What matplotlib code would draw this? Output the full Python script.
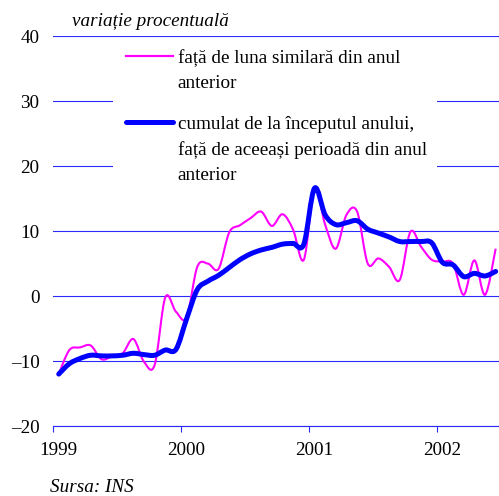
import numpy as np
import matplotlib
matplotlib.use("Agg")
import matplotlib.pyplot as plt
import matplotlib.transforms as mtransforms
from matplotlib.path import Path
from matplotlib.patches import PathPatch, Rectangle
from matplotlib.lines import Line2D
from matplotlib.ticker import FuncFormatter

plt.rcParams['font.family'] = ['Liberation Serif', 'DejaVu Serif']

# monthly data, Jan 1999 .. Jun 2002 (percent change)
start_year = 1999
monthly_yoy = [-12.0, -8.3, -7.9, -7.6, -9.7, -9.3, -8.8, -6.6, -10.1, -10.6, -0.2, -2.4,
               -3.3, 4.5, 5.0, 4.2, 9.8, 10.9, 12.0, 13.0, 10.8, 12.6, 10.2, 5.6,
               16.6, 11.0, 7.3, 12.5, 13.0, 5.0, 5.8, 4.5, 2.5, 9.9, 7.6, 5.6,
               5.3, 5.0, 0.2, 5.5, 0.2, 7.3]
cumulative = [-12.0, -10.4, -9.6, -9.1, -9.2, -9.2, -9.1, -8.8, -9.0, -9.1, -8.3, -8.2,
              -3.5, 1.0, 2.3, 3.2, 4.4, 5.6, 6.5, 7.1, 7.5, 8.0, 8.1, 8.0,
              16.6, 12.5, 11.0, 11.3, 11.6, 10.3, 9.7, 9.1, 8.4, 8.4, 8.4, 8.2,
              5.2, 4.8, 3.0, 3.5, 3.1, 3.8]
year_ticks = [1999, 2000, 2001, 2002]
y_ticks = [-20, -10, 0, 10, 20, 30, 40]

label_yoy = "față de luna similară din anul\nanterior"
label_cum = "cumulat de la începutul anului,\nfață de aceeași perioadă din anul\nanterior"
y_title = "variație procentuală"
source = "Sursa: INS"

fs = 13.8

# points sit in the middle of each month
x = start_year + (np.arange(len(monthly_yoy)) + 0.5) / 12


def smooth_path(xs, ys):
    """Excel-like smoothed line: Catmull-Rom segments as cubic Beziers"""
    pts = np.column_stack([xs, ys])
    n = len(pts)
    verts = [pts[0]]
    codes = [Path.MOVETO]
    for i in range(n - 1):
        p0 = pts[max(i - 1, 0)]
        p1 = pts[i]
        p2 = pts[i + 1]
        p3 = pts[min(i + 2, n - 1)]
        c1 = p1 + (p2 - p0) / 6
        c2 = p2 - (p3 - p1) / 6
        verts += [c1, c2, p2]
        codes += [Path.CURVE4] * 3
    return Path(verts, codes)


fig = plt.figure(figsize=(4.99, 4.96), dpi=100)
ax = fig.add_axes([0.107, 0.141, 0.897, 0.786])

ax.set_xlim(1999, 2002.5)
ax.set_ylim(-20, 40)

grid_color = '#2a2aff'
ax.set_yticks(y_ticks)
ax.yaxis.grid(True, color=grid_color, linewidth=0.8)
ax.set_axisbelow(True)
ax.yaxis.set_major_formatter(FuncFormatter(lambda v, p: f"{int(v)}".replace('-', '\u2013')))
ax.tick_params(axis='y', length=0, pad=10, labelsize=fs)

ax.set_xticks(year_ticks)
ax.set_xticklabels([str(y) for y in year_ticks])
ax.tick_params(axis='x', direction='out', length=4.5, width=0.8, color=grid_color,
               pad=7, labelsize=fs)
# year labels sit a little right of their tick, as in the original
shift = mtransforms.ScaledTranslation(5 / 100, 0, fig.dpi_scale_trans)
for lbl in ax.get_xticklabels():
    lbl.set_transform(lbl.get_transform() + shift)

for side in ['top', 'right', 'left']:
    ax.spines[side].set_visible(False)
ax.spines['bottom'].set_color(grid_color)
ax.spines['bottom'].set_linewidth(0.8)

# white legend background that hides the gridlines behind it
ax.add_patch(Rectangle((0.133, 0.595), 0.724, 0.39, transform=ax.transAxes,
                       facecolor='white', edgecolor='none', zorder=1.5))

ax.add_patch(PathPatch(smooth_path(x, monthly_yoy), fill=False, edgecolor='#ff00ff',
                       linewidth=1.5, zorder=3))
ax.add_patch(PathPatch(smooth_path(x, cumulative), fill=False, edgecolor='#0000ff',
                       linewidth=3.6, capstyle='round', joinstyle='round', zorder=4))

# legend, handles aligned with the first text line
ax.add_line(Line2D([0.162, 0.267], [0.949, 0.949], transform=ax.transAxes,
                   color='#ff00ff', linewidth=1.6, zorder=5))
ax.add_line(Line2D([0.162, 0.267], [0.779, 0.779], transform=ax.transAxes,
                   color='#0000ff', linewidth=3.6, solid_capstyle='round', zorder=5))
ax.text(0.278, 0.966, label_yoy, transform=ax.transAxes, va='top', ha='left',
        fontsize=fs, linespacing=1.6, zorder=5)
ax.text(0.278, 0.795, label_cum, transform=ax.transAxes, va='top', ha='left',
        fontsize=fs, linespacing=1.6, zorder=5)

fig.text(72 / 499, 1 - 22 / 496, y_title, style='italic', fontsize=fs,
         ha='left', va='center')
fig.text(50 / 499, 1 - 487 / 496, source, style='italic', fontsize=fs,
         ha='left', va='center')

fig.savefig("out.png", dpi=100)
